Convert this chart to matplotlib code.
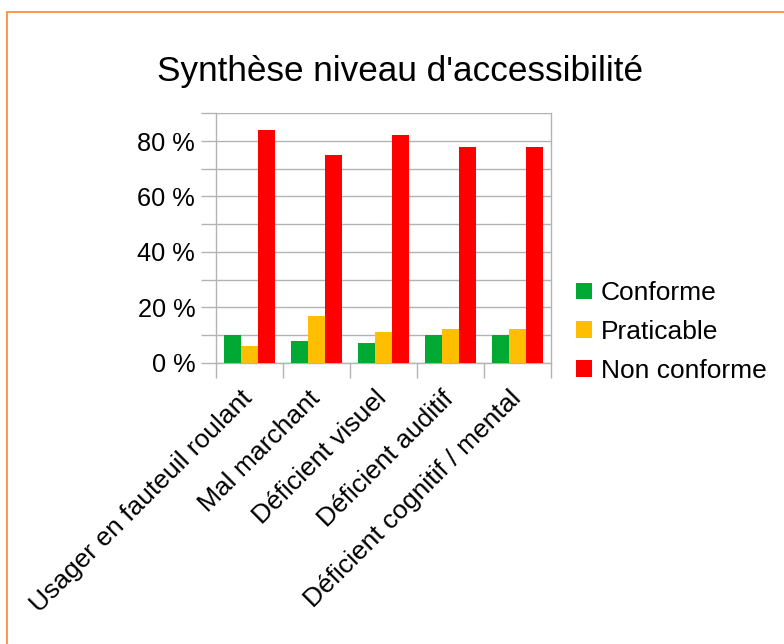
import matplotlib
matplotlib.use("Agg")
import matplotlib.pyplot as plt
import numpy as np
from matplotlib.patches import Rectangle
from matplotlib.ticker import FixedLocator
from matplotlib.transforms import ScaledTranslation

plt.rcParams['font.family'] = ['Liberation Sans', 'DejaVu Sans']

categories = ["Usager en fauteuil roulant", "Mal marchant", "Déficient visuel",
              "Déficient auditif", "Déficient cognitif / mental"]
series_names = ["Conforme", "Praticable", "Non conforme"]
conforme = [10, 8, 7, 10, 10]
praticable = [6, 17, 11, 12, 12]
non_conforme = [84, 75, 82, 78, 78]
y_tick_labels = ["0 %", "20 %", "40 %", "60 %", "80 %"]
colors = ["#00A933", "#FFBF00", "#FF0000"]

W, H = 784, 644
fig = plt.figure(figsize=(W / 100, H / 100), dpi=100)

# outer border (only top and left visible)
fig.patches.append(Rectangle((7 / W, -0.1), 1.2, 1 - 12 / H + 0.1, transform=fig.transFigure,
                             fill=False, edgecolor="#FF8C42", linewidth=1.3))

ax = fig.add_axes([216 / W, 1 - 362.7 / H, (551 - 216) / W, (362.7 - 113.3) / H])

x = np.arange(len(categories))
bw = 0.25
for i, (vals, name) in enumerate(zip([conforme, praticable, non_conforme], series_names)):
    ax.bar(x + (i - 1) * bw, vals, width=bw, color=colors[i], label=name, zorder=3)

ax.set_xlim(-0.5, len(categories) - 0.5)
ax.set_ylim(0, 90)

grid_c = "#b3b3b3"
ax.set_yticks([0, 20, 40, 60, 80])
ax.set_yticklabels(y_tick_labels, fontsize=18.3)
ax.yaxis.set_minor_locator(FixedLocator([10, 30, 50, 70, 90]))
ax.tick_params(axis='y', which='both', length=11, color=grid_c, width=1, pad=4)
ax.grid(axis='y', which='both', color=grid_c, linewidth=1, zorder=0)

ax.set_xticks(x)
ax.set_xticklabels(categories, rotation=45, ha='right', rotation_mode='anchor', fontsize=19)
ax.xaxis.set_minor_locator(FixedLocator(np.arange(-0.5, len(categories), 1.0)))
ax.tick_params(axis='x', which='major', length=0, pad=17)
ax.tick_params(axis='x', which='minor', length=11, color=grid_c, width=1)
shift = ScaledTranslation(-9 / 100, 0, fig.dpi_scale_trans)
for lab in ax.get_xticklabels():
    lab.set_transform(lab.get_transform() + shift)

for s in ['left', 'right', 'bottom']:
    ax.spines[s].set_color(grid_c)
    ax.spines[s].set_linewidth(1)
ax.spines['top'].set_visible(False)

fig.text(400 / W, 1 - 72 / H, "Synthèse niveau d'accessibilité", ha='center', va='center', fontsize=25.3)

fig.legend(loc='center left', bbox_to_anchor=(576 / W, 1 - 332 / H), frameon=False,
           fontsize=19, handlelength=0.6, handleheight=0.6, handletextpad=0.35,
           labelspacing=0.56, borderpad=0, borderaxespad=0)

fig.savefig("out.png", dpi=100)
